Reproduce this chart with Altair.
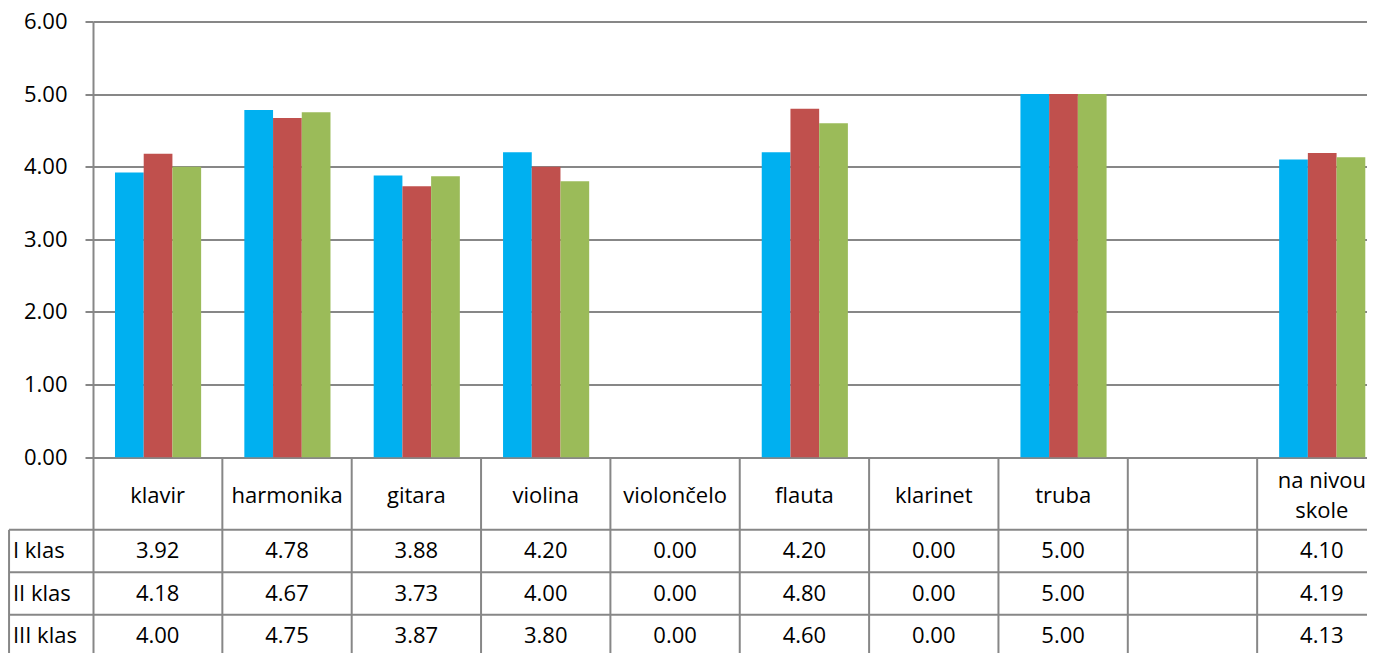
import altair as alt
import pandas as pd

# ---- data ----
categories = ["klavir", "harmonika", "gitara", "violina", "violončelo",
              "flauta", "klarinet", "truba", "", "na nivou\nskole"]
series = ["I klas", "II klas", "III klas"]
i_klas = [3.92, 4.78, 3.88, 4.20, 0.00, 4.20, 0.00, 5.00, None, 4.10]
ii_klas = [4.18, 4.67, 3.73, 4.00, 0.00, 4.80, 0.00, 5.00, None, 4.19]
iii_klas = [4.00, 4.75, 3.87, 3.80, 0.00, 4.60, 0.00, 5.00, None, 4.13]
values = [i_klas, ii_klas, iii_klas]
colors = ["#00B0F0", "#C0504D", "#9BBB59"]
y_ticks = [0, 1, 2, 3, 4, 5, 6]

# ---- layout (in data units) ----
PLOT_W = 1274
UNIT_PX = 129.35
GROUP_OFFSET = 0.170
BAR_W = 0.222
X_MAX = PLOT_W / UNIT_PX
X_LEFT = -0.649
Y_MIN = -2.696
HEADER_BOTTOM = -1.0
ROW_H = 0.585
LINE_H = 30
Y_PX = 72.6
GRAY = "#878787"
FONT = "Open Sans"
FS = 22

bars, cells = [], []
for s, (name, vals) in enumerate(zip(series, values)):
    row_top = HEADER_BOTTOM - s * ROW_H
    cells.append({"x": X_LEFT + 0.03, "y": row_top - ROW_H / 2, "t": name, "al": "left"})
    for i, v in enumerate(vals):
        if v is None:
            continue
        x0 = i + GROUP_OFFSET + s * BAR_W
        bars.append({"cat": categories[i], "series": name, "value": v,
                     "x": x0, "x2": x0 + BAR_W})
        cells.append({"x": i + 0.5, "y": row_top - ROW_H / 2, "t": f"{v:.2f}", "al": "center"})

bars_df = pd.DataFrame(bars)
cells_df = pd.DataFrame(cells)
header_y = [-0.53 + (c.count("\n")) * (LINE_H / 2) / Y_PX for c in categories]
header_df = pd.DataFrame({"x": [i + 0.5 for i in range(len(categories))],
                          "y": header_y,
                          "t": categories})

vlines = pd.DataFrame({"x": list(range(1, len(categories) + 1)),
                       "y": [0.0] * len(categories), "y2": [Y_MIN] * len(categories)})
vline_left = pd.DataFrame({"x": [X_LEFT], "y": [HEADER_BOTTOM], "y2": [Y_MIN]})
hlines = pd.DataFrame({"y": [HEADER_BOTTOM - k * ROW_H for k in range(3)],
                       "x": [X_LEFT] * 3, "x2": [X_MAX] * 3})

xs = alt.Scale(domain=[0, X_MAX], nice=False, zero=False)
ys = alt.Scale(domain=[Y_MIN, 6], nice=False, zero=False)

bar_layer = alt.Chart(bars_df).mark_bar().encode(
    x=alt.X("x:Q", scale=xs, axis=None),
    x2="x2:Q",
    y=alt.Y("value:Q", scale=ys,
            axis=alt.Axis(values=y_ticks, format=".2f", title=None,
                          labelFont=FONT, labelFontSize=FS, labelColor="black",
                          labelPadding=18, tickSize=8, tickColor=GRAY, tickWidth=2,
                          domainColor=GRAY, domainWidth=2,
                          grid=True, gridColor=GRAY, gridWidth=2)),
    y2=alt.datum(0),
    color=alt.Color("series:N", scale=alt.Scale(domain=series, range=colors), legend=None),
)

vline_layer = alt.Chart(vlines).mark_rule(color=GRAY, strokeWidth=2).encode(
    x=alt.X("x:Q", scale=xs), y=alt.Y("y:Q", scale=ys), y2="y2:Q")
vleft_layer = alt.Chart(vline_left).mark_rule(color=GRAY, strokeWidth=2).encode(
    x=alt.X("x:Q", scale=xs), y=alt.Y("y:Q", scale=ys), y2="y2:Q")
hline_layer = alt.Chart(hlines).mark_rule(color=GRAY, strokeWidth=2).encode(
    y=alt.Y("y:Q", scale=ys), x=alt.X("x:Q", scale=xs), x2="x2:Q")

header_layer = alt.Chart(header_df).mark_text(
    font=FONT, fontSize=FS, color="black", baseline="middle", align="center",
    lineBreak="\n", lineHeight=LINE_H).encode(
    x=alt.X("x:Q", scale=xs), y=alt.Y("y:Q", scale=ys), text="t:N")

cell_center = alt.Chart(cells_df[cells_df["al"] == "center"]).mark_text(
    font=FONT, fontSize=FS, color="black", baseline="middle", align="center").encode(
    x=alt.X("x:Q", scale=xs), y=alt.Y("y:Q", scale=ys), text="t:N")
cell_left = alt.Chart(cells_df[cells_df["al"] == "left"]).mark_text(
    font=FONT, fontSize=FS, color="black", baseline="middle", align="left").encode(
    x=alt.X("x:Q", scale=xs), y=alt.Y("y:Q", scale=ys), text="t:N")

chart = alt.layer(bar_layer, vline_layer, vleft_layer, hline_layer,
                  header_layer, cell_center, cell_left).properties(
    width=PLOT_W, height=631.5,
    padding={"left": 85, "top": 13.5, "right": 0, "bottom": 0},
    autosize=alt.AutoSizeParams(type="none"),
).configure_view(stroke=None).configure(background="white")

chart.save("out.html", embed_options={"renderer": "svg", "actions": False})
